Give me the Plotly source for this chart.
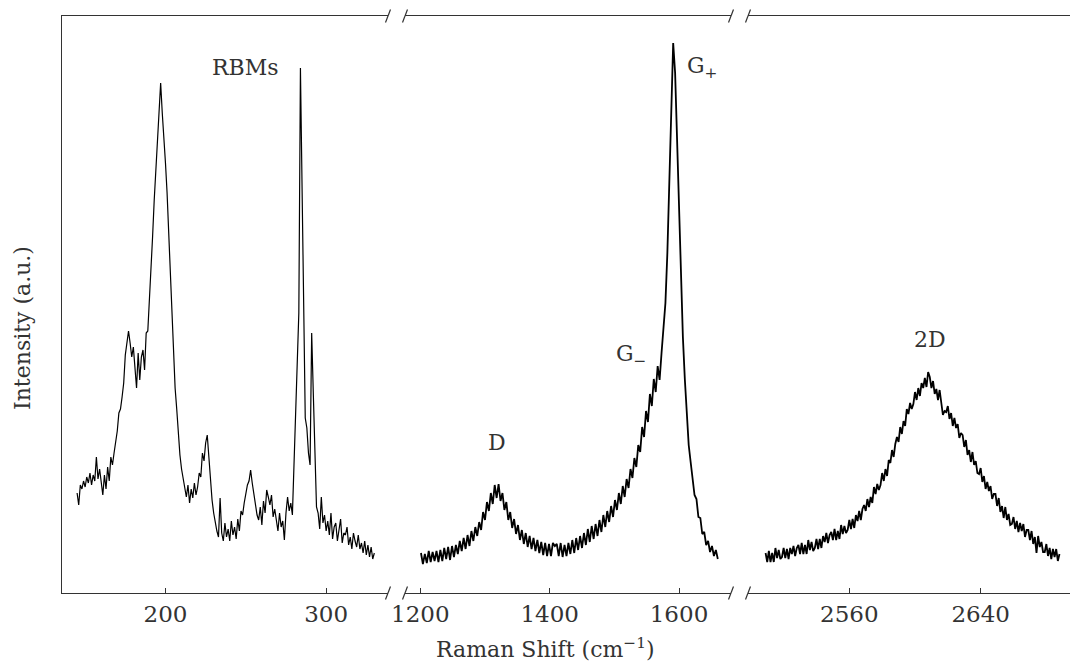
import numpy as np
import plotly.graph_objects as go

# ---------------- data ----------------
# Panel 1: RBM region, 1 cm-1 steps starting at 145 cm-1
rbm_start, rbm_step = 145, 1
rbm_intensity = [
    100, 88, 108, 104, 112, 106, 116, 110, 120, 108,
    118, 112, 136, 114, 124, 110, 98, 118, 104, 126,
    112, 136, 128, 140, 150, 162, 180, 184, 196, 210,
    238, 252, 262, 250, 236, 246, 222, 205, 240, 213,
    236, 243, 223, 260, 262, 290, 320, 357, 393, 425,
    455, 485, 510, 480, 458, 430, 400, 360, 320, 272,
    236, 205, 184, 158, 138, 124, 114, 104, 96, 108,
    90, 104, 95, 110, 98, 106, 120, 116, 140, 132,
    150, 158, 133, 112, 93, 80, 70, 62, 56, 95,
    60, 52, 70, 56, 64, 52, 72, 58, 66, 54,
    74, 62, 82, 78, 90, 100, 108, 112, 123, 110,
    100, 88, 78, 73, 86, 68, 92, 80, 103, 96,
    88, 98, 76, 84, 70, 62, 80, 66, 72, 53,
    80, 96, 82, 90, 78, 133, 170, 220, 280, 525,
    400, 260, 175, 165, 140, 128, 260, 200, 150, 86,
    80, 64, 96, 70, 78, 62, 72, 58, 80, 54,
    66, 70, 52, 62, 74, 50, 60, 58, 66, 48,
    56, 44, 60, 52, 46, 58, 44, 50, 40, 52,
    38, 48, 36, 46, 34, 40,
]

# Panel 2: D and G region, 3 cm-1 steps starting at 1201 cm-1
dg_start, dg_step = 1201, 3
dg_intensity = [
    40, 29, 39, 30, 42, 31, 41, 32, 42, 31,
    43, 32, 45, 34, 46, 33, 47, 36, 48, 39,
    52, 42, 55, 44, 58, 47, 62, 52, 66, 57,
    71, 63, 81, 73, 91, 82, 100, 89, 108, 95,
    109, 92, 100, 83, 91, 73, 81, 65, 74, 59,
    68, 53, 63, 49, 60, 46, 57, 44, 55, 42,
    53, 40, 51, 38, 50, 37, 49, 37, 50, 47,
    49, 37, 50, 36, 48, 37, 50, 39, 53, 40,
    55, 43, 57, 45, 60, 48, 64, 51, 67, 54,
    69, 57, 73, 61, 78, 66, 82, 71, 87, 76,
    93, 83, 100, 89, 107, 96, 114, 105, 124, 115,
    135, 126, 148, 141, 166, 156, 182, 171, 199, 187,
    214, 201, 227, 213, 240, 262, 290, 340, 415, 478,
    550, 520, 455, 370, 300, 256, 214, 182, 148, 131,
    117, 98, 94, 76, 75, 59, 61, 48, 52, 41,
    47, 37, 43, 34,
]

# Panel 3: 2D region, 1 cm-1 steps starting at 2509 cm-1
d2_start, d2_step = 2509, 1
d2_intensity = [
    40, 31, 42, 31, 40, 31, 45, 35, 43, 34,
    36, 45, 35, 44, 34, 45, 39, 47, 37, 45,
    48, 39, 50, 39, 48, 39, 53, 43, 51, 42,
    45, 54, 44, 54, 45, 57, 51, 60, 50, 58,
    61, 53, 64, 53, 62, 54, 68, 59, 67, 60,
    63, 73, 64, 74, 65, 78, 72, 82, 73, 84,
    88, 82, 94, 86, 96, 90, 106, 99, 109, 103,
    108, 120, 112, 124, 117, 133, 130, 143, 136, 149,
    156, 151, 166, 159, 172, 167, 184, 179, 190, 184,
    189, 201, 193, 205, 197, 210, 205, 215, 206, 221,
    216, 205, 212, 199, 204, 193, 203, 190, 178, 182,
    181, 187, 174, 180, 167, 175, 165, 169, 155, 160,
    158, 146, 153, 138, 143, 131, 141, 128, 132, 120,
    119, 125, 111, 117, 104, 111, 102, 107, 94, 99,
    99, 87, 95, 81, 87, 75, 86, 73, 79, 68,
    69, 76, 64, 72, 61, 70, 62, 69, 56, 63,
    63, 53, 62, 49, 56, 40, 57, 46, 51, 41,
    41, 49, 37, 45, 34, 44, 36, 44, 32, 39,
]

panel_ticks = [[200, 300], [1200, 1400, 1600], [2560, 2640]]
panel_ranges = [[135.6, 338.5], [1176.3, 1680.4], [2498.3, 2694.4]]
peak_labels = ["RBMs", "D", "G<sub>\u2212</sub>", "G<sub>+</sub>", "2D"]
peak_label_pos = [(1, 249.5, 526), (2, 1318.6, 151), (2, 1526, 238), (2, 1635.5, 526), (3, 2609.1, 254)]

# ---------------- figure ----------------
W, H = 1070, 664
ML, MR, MT, MB = 62, 0, 16, 71
PW, PH = W - ML - MR, H - MT - MB
domains = [[0.0, 0.32341], [0.34028, 0.66369], [0.68056, 1.0]]
line_widths = [1.2, 1.8, 1.8]

FONT = "DejaVu Serif"
INK = "#333333"

fig = go.Figure()
series = [
    (rbm_start, rbm_step, rbm_intensity),
    (dg_start, dg_step, dg_intensity),
    (d2_start, d2_step, d2_intensity),
]
for i, (s0, st, vals) in enumerate(series):
    x = s0 + st * np.arange(len(vals))
    suf = "" if i == 0 else str(i + 1)
    fig.add_trace(go.Scatter(
        x=x, y=vals, mode="lines",
        line=dict(color="black", width=line_widths[i]),
        xaxis="x" + suf, yaxis="y" + suf,
        showlegend=False, hoverinfo="skip",
    ))

layout = dict(
    width=W, height=H,
    margin=dict(l=ML, r=MR, t=MT, b=MB, pad=0),
    plot_bgcolor="white", paper_bgcolor="white",
    font=dict(family=FONT, size=22, color=INK),
    showlegend=False,
)
for i in range(3):
    suf = "" if i == 0 else str(i + 1)
    layout["xaxis" + suf] = dict(
        domain=domains[i], range=panel_ranges[i],
        anchor="y" + suf,
        showline=True, mirror=True, linecolor=INK, linewidth=1.2,
        ticks="inside", ticklen=5, tickwidth=1, tickcolor=INK,
        tickvals=panel_ticks[i],
        tickfont=dict(family=FONT, size=23, color=INK),
        showgrid=False, zeroline=False,
    )
    layout["yaxis" + suf] = dict(
        domain=[0, 1], range=[0, 577],
        anchor="x" + suf,
        showline=(i == 0), mirror=False, linecolor=INK, linewidth=1.2,
        ticks="", showticklabels=False,
        showgrid=False, zeroline=False,
    )
fig.update_layout(**layout)

# break marks
dx, dy = 2.5 / PW, 6.5 / PH
edges = [domains[0][1], domains[1][0], domains[1][1], domains[2][0]]
for xc in edges:
    for yc in (0.0, 1.0):
        fig.add_shape(type="line", xref="paper", yref="paper",
                      x0=xc - dx, y0=yc - dy, x1=xc + dx, y1=yc + dy,
                      line=dict(color=INK, width=1.2), layer="above")

# peak labels
for text, (p, xv, yv) in zip(peak_labels, peak_label_pos):
    suf = "" if p == 1 else str(p)
    fig.add_annotation(text=text, x=xv, y=yv, xref="x" + suf, yref="y" + suf,
                       showarrow=False, xanchor="center", yanchor="middle",
                       font=dict(family=FONT, size=22, color=INK))

# axis titles
fig.add_annotation(text="Raman Shift (cm<sup>\u22121</sup>)", xref="paper", yref="paper",
                   x=(545 - ML) / PW, y=(593 - 648) / PH, showarrow=False,
                   xanchor="center", yanchor="middle",
                   font=dict(family=FONT, size=22, color=INK))
fig.add_annotation(text="Intensity (a.u.)", xref="paper", yref="paper",
                   x=(22 - ML) / PW, y=(593 - 328) / PH, showarrow=False, textangle=-90,
                   xanchor="center", yanchor="middle",
                   font=dict(family=FONT, size=22, color=INK))

fig.write_html("out.html", config={"displayModeBar": False},
               post_script="document.body.style.margin='0px';")
